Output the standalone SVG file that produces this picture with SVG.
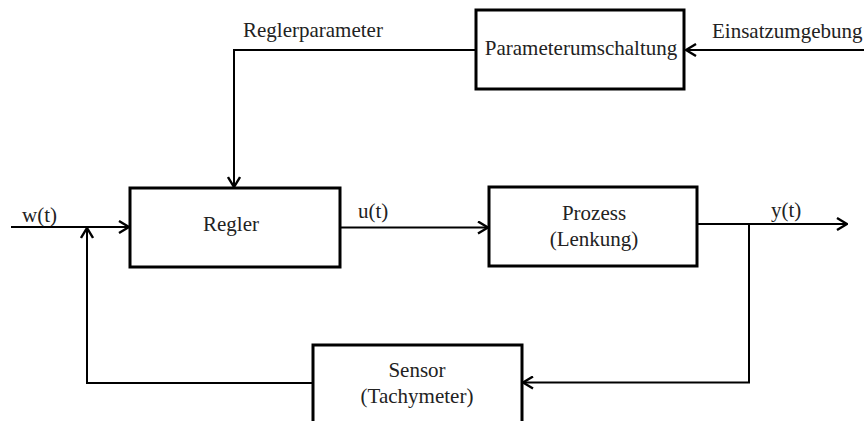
<svg xmlns="http://www.w3.org/2000/svg" width="864" height="421" viewBox="0 0 864 421">
<defs>
<marker id="arr" viewBox="0 0 12 14" refX="11" refY="7" markerWidth="12" markerHeight="14" markerUnits="userSpaceOnUse" orient="auto">
<path d="M1,1 L11,7 L1,13" fill="none" stroke="#000" stroke-width="2.4"/>
</marker>
<style>
.box{fill:#fff;stroke:#000;stroke-width:3}
.ln{fill:none;stroke:#000;stroke-width:2}
.t{font-family:"Liberation Serif","Times New Roman",serif;font-size:21px;fill:#222}
.c{text-anchor:middle}
</style>
</defs>
<rect width="864" height="421" fill="#fff"/>
<g id="connectors">
<path class="ln" d="M476,50 H234 V187" marker-end="url(#arr)"/>
<path class="ln" d="M864,50 H686" marker-end="url(#arr)"/>
<path class="ln" d="M11,227 H129" marker-end="url(#arr)"/>
<path class="ln" d="M340,227.5 H488" marker-end="url(#arr)"/>
<path class="ln" d="M697,224 H847" marker-end="url(#arr)"/>
<path class="ln" d="M749,224 V382.5 H523" marker-end="url(#arr)"/>
<path class="ln" d="M313,383 H87 V228" marker-end="url(#arr)"/>
</g>
<g id="labels">
<text class="t" x="243" y="37">Reglerparameter</text>
<text class="t" x="712" y="38">Einsatzumgebung</text>
<text class="t" x="22" y="222">w(t)</text>
<text class="t" x="358" y="218">u(t)</text>
<text class="t" x="771" y="217">y(t)</text>
</g>
<g id="param">
<rect class="box" x="476" y="10" width="208" height="79"/>
<text class="t c" x="581" y="55">Parameterumschaltung</text>
</g>
<g id="regler">
<rect class="box" x="130" y="188" width="210" height="79"/>
<text class="t c" x="231" y="231">Regler</text>
</g>
<g id="prozess">
<rect class="box" x="489" y="187" width="208" height="79"/>
<text class="t c" x="594" y="220">Prozess</text>
<text class="t c" x="594" y="246">(Lenkung)</text>
</g>
<g id="sensor">
<rect class="box" x="313" y="345" width="209" height="85"/>
<text class="t c" x="417" y="377">Sensor</text>
<text class="t c" x="417" y="403">(Tachymeter)</text>
</g>
</svg>
